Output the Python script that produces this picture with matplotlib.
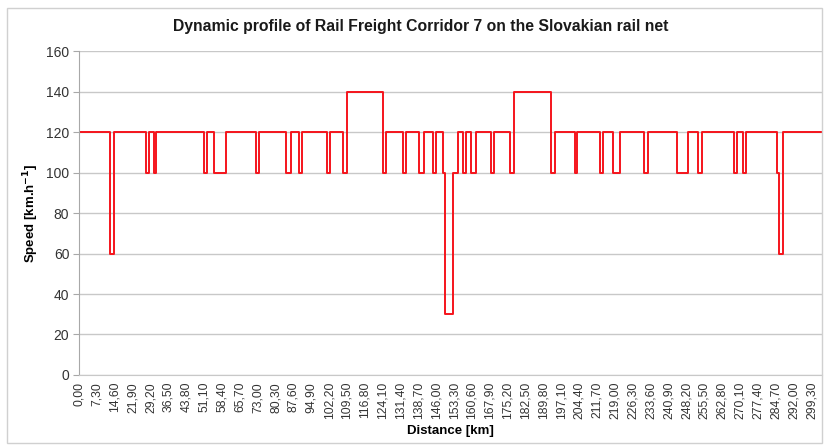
import matplotlib
matplotlib.use("Agg")
import matplotlib.pyplot as plt
from matplotlib.patches import Rectangle

plt.rcParams["font.family"] = ["Liberation Sans", "DejaVu Sans"]

# speed change points along the corridor (km) and the speed from that point on
breaks_km = [
    0.0, 12.8, 14.4, 27.3, 28.6, 30.7, 31.6, 51.1, 52.1, 55.2, 60.2,
    72.5, 73.6, 84.5, 86.6, 90.0, 91.3, 101.3, 102.5, 108.0, 109.3,
    124.3, 125.4, 132.2, 133.6, 139.1, 141.1, 144.5, 145.9, 148.6, 149.7,
    153.0, 154.7, 157.0, 158.0, 160.2, 162.2, 168.4, 169.7, 176.3, 177.8,
    192.9, 194.3, 202.5, 203.6, 213.0, 214.3, 218.1, 220.9, 230.7, 232.4,
    244.3, 248.8, 252.9, 254.5, 267.5, 268.7, 271.3, 272.7, 285.0, 286.0,
    287.7, 303.5,
]
speeds = [
    120, 60, 120, 100, 120, 100, 120, 100, 120, 100, 120,
    100, 120, 100, 120, 100, 120, 100, 120, 100, 140,
    100, 120, 100, 120, 100, 120, 100, 120, 100, 30,
    100, 120, 100, 120, 100, 120, 100, 120, 100, 140,
    100, 120, 100, 120, 100, 120, 100, 120, 100, 120,
    100, 120, 100, 120, 100, 120, 100, 120, 100, 60,
    120, 120,
]
tick_km = [round(7.3 * i, 2) for i in range(42)]
tick_labels = [f"{v:.2f}".replace(".", ",") for v in tick_km]
y_ticks = [0, 20, 40, 60, 80, 100, 120, 140, 160]

fig = plt.figure(figsize=(8.25, 4.48), dpi=100)
fig.patch.set_facecolor("white")
fig.add_artist(Rectangle((0.008, 0.012), 0.988, 0.97, transform=fig.transFigure,
                         fill=False, edgecolor="#D0D0D0", linewidth=1.0))

ax = fig.add_axes([0.0958, 0.163, 0.9006, 0.723])
ax.step(breaks_km, speeds, where="post", color="#F5141C", linewidth=1.4)

ax.set_xlim(0, 303.6)
ax.set_ylim(0, 160)
ax.set_yticks(y_ticks)
ax.set_yticklabels([str(v) for v in y_ticks], fontsize=10, color="#333333")
ax.set_xticks(tick_km)
ax.set_xticklabels(tick_labels, rotation=90, fontsize=8.7, color="#333333")
ax.tick_params(axis="x", length=0, pad=5)
ax.tick_params(axis="y", length=4, color="#A8A8A8", pad=3)
ax.grid(axis="y", color="#C8C8C8", linewidth=1.0)
ax.set_axisbelow(True)
for side in ["top", "right"]:
    ax.spines[side].set_visible(False)
ax.spines["left"].set_color("#A8A8A8")
ax.spines["bottom"].set_color("#C8C8C8")

ax.set_xlabel("Distance [km]", fontsize=9.5, fontweight="bold", labelpad=4)
ax.set_ylabel("Speed [km.h$^{\\mathbf{-1}}$]", fontsize=9.5, fontweight="bold", labelpad=4)
fig.text(0.51, 0.94, "Dynamic profile of Rail Freight Corridor 7 on the Slovakian rail net",
         ha="center", va="center", fontsize=11.3, fontweight="bold", color="#1A1A1A")

fig.savefig("out.png", dpi=100, facecolor="white")
